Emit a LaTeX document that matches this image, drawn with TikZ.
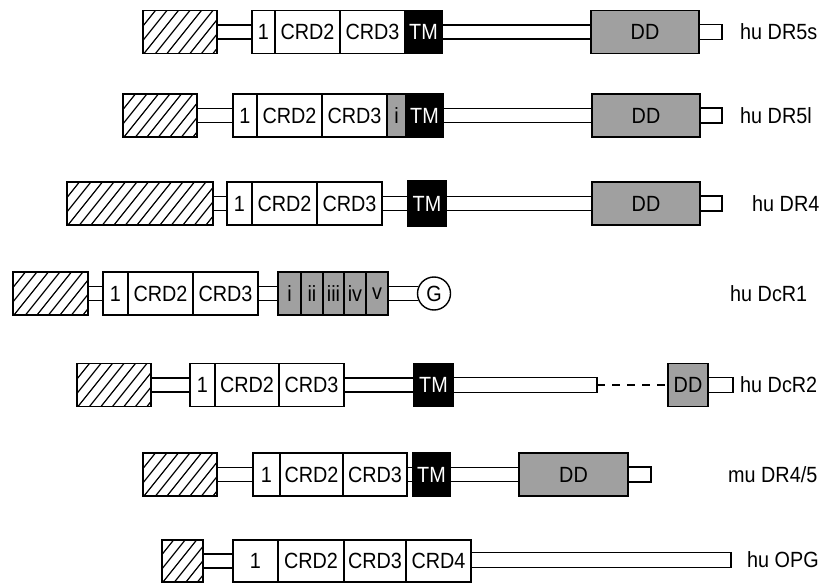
\documentclass[tikz,border=0pt]{standalone}
\usepackage{fontspec}
\setmainfont{Liberation Sans}[FakeStretch=0.9]
\usetikzlibrary{backgrounds}
\definecolor{dgrey}{RGB}{160,160,160}
\newcommand\lbl{\fontsize{22}{24}\selectfont}
% \segbox[style]{name}{x1}{x2}{center y}{height}{text}
\newcommand\segbox[7][seg]{\node[#1, minimum width={#4-#3}, minimum height={#6}] (#2) at ({(#3+#4)/2},{#5}) {#7};}
\newcommand\conn[2]{\begin{pgfonlayer}{background}\draw[connline] (#1.east) -- (#2.west);\end{pgfonlayer}}
\tikzset{
 seg/.style={draw, line width=1.4pt, fill=white, rectangle, inner sep=0pt, outer sep=0pt, font=\lbl},
 greyseg/.style={seg, fill=dgrey},
 tmseg/.style={seg, fill=black, text=white},
 hatchseg/.style={seg, path picture={\foreach \k in {0,...,26} \draw[line width=1.2pt] ([xshift=\k*11.5pt-45pt]path picture bounding box.south west) -- ++(40pt,50pt);}},
 connline/.style={line width=1.4pt, double=white, double distance=12.6pt},
 lab/.style={anchor=west, font=\lbl, inner sep=0pt},
}
\begin{document}
\begin{tikzpicture}[x=1pt,y=-1pt]
\useasboundingbox (0,0) rectangle (825,583);
% Row 1: hu DR5s
\segbox[hatchseg]{h1}{143}{217}{32}{43}{}
\segbox{a1}{252}{275}{32}{43}{1}
\segbox{b1}{275}{340}{32}{43}{CRD2}
\segbox{c1}{340}{405}{32}{43}{CRD3}
\segbox[tmseg]{tm1}{405}{442}{32}{43}{TM}
\segbox{t1}{699}{722}{32}{15}{}
\segbox[greyseg]{dd1}{591}{699}{32}{43}{DD}
\node[lab] (l1) at (740,32) {hu DR5s};
\conn{h1}{a1}\conn{tm1}{dd1}
% Row 2: hu DR5l
\segbox[hatchseg]{h2}{123}{197}{115.5}{43}{}
\segbox{a2}{233}{257}{115.5}{43}{1}
\segbox{b2}{257}{322}{115.5}{43}{CRD2}
\segbox{c2}{322}{387}{115.5}{43}{CRD3}
\segbox[greyseg]{i2}{387}{406}{115.5}{43}{i}
\segbox[tmseg]{tm2}{406}{443}{115.5}{43}{TM}
\segbox{t2}{700}{722}{115.5}{15}{}
\segbox[greyseg]{dd2}{592}{700}{115.5}{43}{DD}
\node[lab] (l2) at (740,115.5) {hu DR5l};
\conn{h2}{a2}\conn{tm2}{dd2}
% Row 3: hu DR4
\segbox[hatchseg]{h3}{67}{213}{203.5}{43}{}
\segbox{a3}{227}{252}{203.5}{43}{1}
\segbox{b3}{252}{317}{203.5}{43}{CRD2}
\segbox{c3}{317}{382}{203.5}{43}{CRD3}
\segbox[tmseg]{tm3}{408}{446}{203.5}{45}{TM}
\segbox{t3}{700}{722}{203.5}{15}{}
\segbox[greyseg]{dd3}{592}{700}{203.5}{43}{DD}
\node[lab] (l3) at (752,203.5) {hu DR4};
\conn{h3}{a3}\conn{c3}{tm3}\conn{tm3}{dd3}
% Row 4: hu DcR1
\segbox[hatchseg]{h4}{13}{88}{293.5}{43}{}
\segbox{a4}{103}{128}{293.5}{43}{1}
\segbox{b4}{128}{193}{293.5}{43}{CRD2}
\segbox{c4}{193}{258}{293.5}{43}{CRD3}
\segbox[greyseg]{g1}{278}{301}{293.5}{43}{i}
\segbox[greyseg]{g2}{301}{323}{293.5}{43}{ii}
\segbox[greyseg]{g3}{323}{344}{293.5}{43}{iii}
\segbox[greyseg]{g4}{344}{366}{293.5}{43}{iv}
\segbox[greyseg]{g5}{366}{388}{293.5}{43}{v}
\node[seg, circle, minimum size=33pt] (gpi) at (434,293.5) {G};
\node[lab] (l4) at (730,293.5) {hu DcR1};
\conn{h4}{a4}\conn{c4}{g1}\conn{g5}{gpi}
% Row 5: hu DcR2
\segbox[hatchseg]{h5}{77}{151}{385}{43}{}
\segbox{a5}{190}{215}{385}{43}{1}
\segbox{b5}{215}{279}{385}{43}{CRD2}
\segbox{c5}{279}{344}{385}{43}{CRD3}
\segbox[tmseg]{tm5}{414}{453}{385}{43}{TM}
\segbox{t5}{453}{597}{385}{15}{}
\segbox{e5}{708}{733}{385}{15}{}
\segbox[greyseg]{dd5}{668}{708}{385}{43}{DD}
\node[lab] (l5) at (740,385) {hu DcR2};
\conn{h5}{a5}\conn{c5}{tm5}
\draw[line width=1.4pt, dash pattern=on 8pt off 7pt] (t5.east) -- (dd5.west);
% Row 6: mu DR4/5
\segbox[hatchseg]{h6}{143}{217}{474.5}{43}{}
\segbox{a6}{253}{280}{474.5}{43}{1}
\segbox{b6}{280}{343}{474.5}{43}{CRD2}
\segbox{c6}{343}{407}{474.5}{43}{CRD3}
\segbox[tmseg]{tm6}{413}{450}{474.5}{43}{TM}
\segbox{t6}{628}{651}{474.5}{15}{}
\segbox[greyseg]{dd6}{519}{628}{474.5}{43}{DD}
\node[lab] (l6) at (728,474.5) {mu DR4/5};
\conn{h6}{a6}\conn{c6}{tm6}\conn{tm6}{dd6}
% Row 7: hu OPG
\segbox[hatchseg]{h7}{162}{203}{561}{42}{}
\segbox{a7}{233}{278}{561}{42}{1}
\segbox{b7}{278}{344}{561}{42}{CRD2}
\segbox{c7}{344}{406}{561}{42}{CRD3}
\segbox{d7}{406}{471}{561}{42}{CRD4}
\segbox{t7}{471}{731}{560}{15}{}
\node[lab] (l7) at (747,560) {hu OPG};
\conn{h7}{a7}
\end{tikzpicture}
\end{document}
